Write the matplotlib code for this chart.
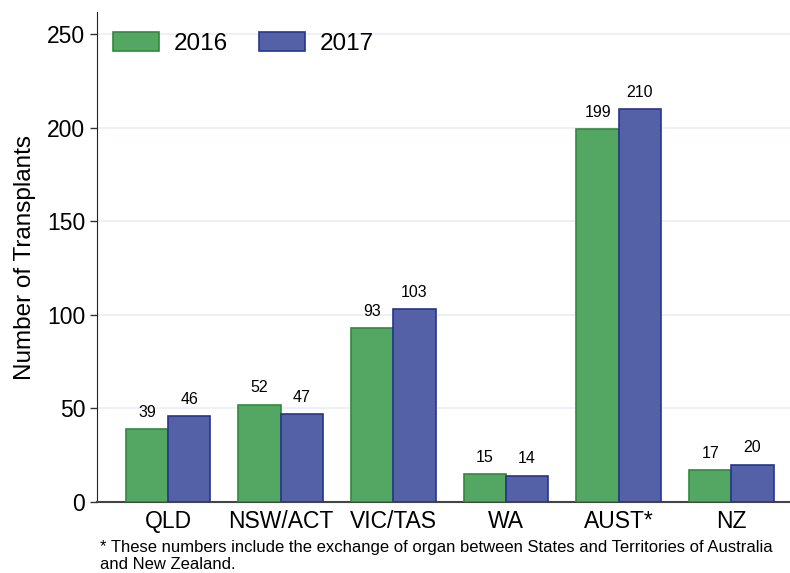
import matplotlib
matplotlib.use("Agg")
import matplotlib.pyplot as plt
import numpy as np

plt.rcParams["font.family"] = ["Liberation Sans", "DejaVu Sans"]

# Data
regions = ["QLD", "NSW/ACT", "VIC/TAS", "WA", "AUST*", "NZ"]
years = ["2016", "2017"]
transplants_2016 = [39, 52, 93, 15, 199, 17]
transplants_2017 = [46, 47, 103, 14, 210, 20]

FILL = ["#54a762", "#5561a6"]
EDGE = ["#2f8a3e", "#26358f"]

fig = plt.figure(figsize=(7.9, 5.73), dpi=100)
ax = fig.add_axes([0.1228, 0.1239, 0.8772, 0.855])

x = np.arange(len(regions))
width = 0.375
for i, (vals, label) in enumerate(zip([transplants_2016, transplants_2017], years)):
    offs = (i - 0.5) * width
    bars = ax.bar(x + offs, vals, width, color=FILL[i], edgecolor=EDGE[i],
                  linewidth=1.2, label=label, zorder=3)
    for b, v in zip(bars, vals):
        ax.text(b.get_x() + b.get_width() / 2, v + 5, str(v),
                ha="center", va="bottom", fontsize=11.5, zorder=4)

ax.set_xlim(-0.63, 5.52)
ax.set_ylim(0, 261.7)
ax.set_yticks([0, 50, 100, 150, 200, 250])
ax.set_xticks(x)
ax.set_xticklabels(regions)
ax.tick_params(axis="both", labelsize=16.5, length=5, width=1, color="#333333")
ax.tick_params(axis="x", length=0, pad=6)
ax.grid(axis="y", color="#eaeef2", linewidth=1.2, zorder=0)
ax.set_ylabel("Number of Transplants", fontsize=17.5, labelpad=8)

for side in ["top", "right"]:
    ax.spines[side].set_visible(False)
ax.spines["left"].set_color("#222222")
ax.spines["bottom"].set_color("#444444")
ax.spines["bottom"].set_linewidth(1.5)

ax.legend(loc="upper left", ncol=2, frameon=False, fontsize=17.5,
          handlelength=1.9, handleheight=0.8, columnspacing=1.3,
          handletextpad=0.6, bbox_to_anchor=(-0.009, 1.004))

fig.text(0.127, 0.0576, "* These numbers include the exchange of organ between States and Territories of Australia\nand New Zealand.",
         fontsize=12, ha="left", va="top", linespacing=1.2)

fig.savefig("out.png", dpi=100)
